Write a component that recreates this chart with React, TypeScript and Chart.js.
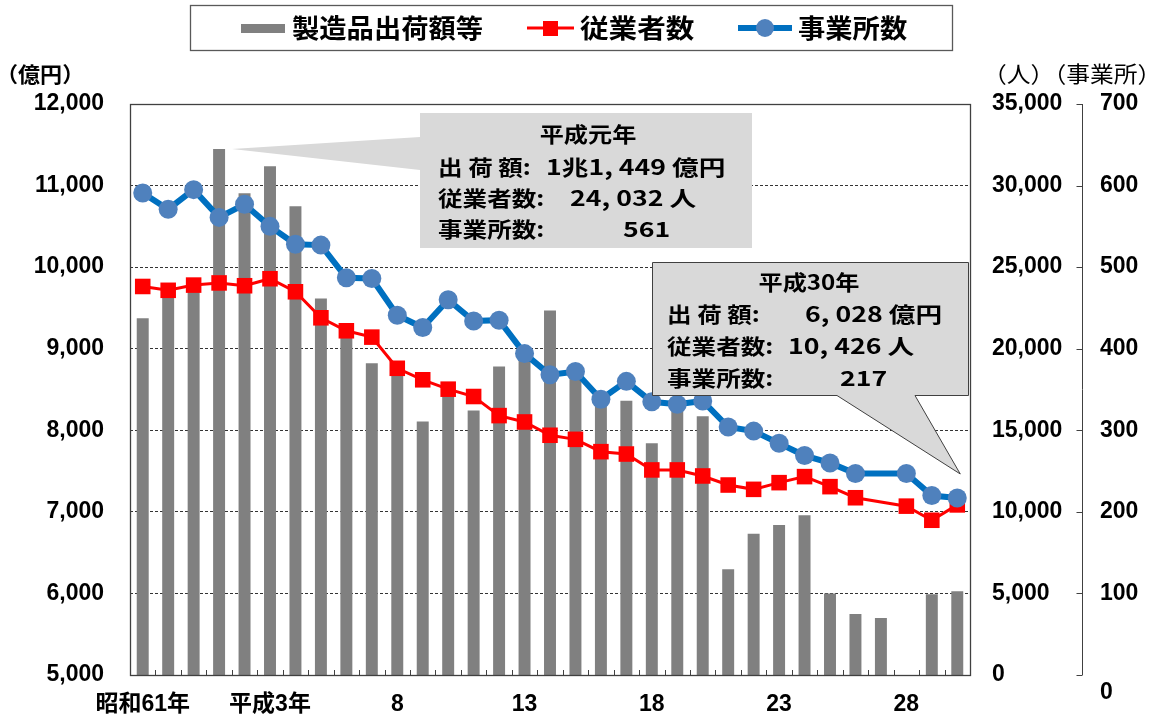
import React, { useEffect, useRef } from 'react';
import { Chart, registerables } from 'chart.js';
Chart.register(...registerables);

const categories = [
  '昭和61年', '昭和62年', '昭和63年', '平成元年', '平成2年', '平成3年', '平成4年', '平成5年', '平成6年', '平成7年',
  '平成8年', '平成9年', '平成10年', '平成11年', '平成12年', '平成13年', '平成14年', '平成15年', '平成16年', '平成17年',
  '平成18年', '平成19年', '平成20年', '平成21年', '平成22年', '平成23年', '平成24年', '平成25年', '平成26年', '平成27年',
  '平成28年', '平成29年', '平成30年',
];
const xTickLabels = [
  '昭和61年', '', '', '', '', '平成3年', '', '', '', '',
  '8', '', '', '', '', '13', '', '', '', '',
  '18', '', '', '', '', '23', '', '', '', '',
  '28', '', '',
];
// 製造品出荷額等 (億円)
const shipments = [
  9375, 9700, 9780, 11449, 10905, 11237, 10746, 9616, 9200, 8823,
  8780, 8107, 8500, 8242, 8783, 8950, 9467, 8700, 8400, 8361,
  7840, 8350, 8173, 6296, 6733, 6840, 6959, 6000, 5749, 5700,
  null, 5990, 6028,
];
// 従業者数 (人)
const employees = [
  23815, 23580, 23900, 24032, 23860, 24290, 23490, 21895, 21100, 20710,
  18800, 18095, 17520, 17070, 15900, 15510, 14695, 14445, 13690, 13545,
  12570, 12570, 12200, 11645, 11380, 11790, 12160, 11545, 10865, null,
  10350, 9485, 10426,
];
// 事業所数
const establishments = [
  591, 571, 595, 561, 577, 550, 528, 527, 487, 486,
  441, 426, 460, 434, 435, 394, 368, 372, 338, 360,
  335, 332, 336, 304, 299, 284, 269, 260, 247, null,
  247, 220, 217,
];

const legendLabels = ['製造品出荷額等', '従業者数', '事業所数'];
const unitLeft = '（億円）';
const unitRight = '（人）（事業所）';
const callout1Title = '平成元年';
const callout1Labels = ['出 荷 額:', '従業者数:', '事業所数:'];
const callout1Values = ['1兆1, 449 億円', '24, 032 人', '561'];
const callout2Title = '平成30年';
const callout2Labels = ['出 荷 額:', '従業者数:', '事業所数:'];
const callout2Values = ['6, 028 億円', '10, 426 人', '217'];

const W = 1168;
const H = 722;
const CJK = "'Noto Sans CJK JP', sans-serif";
const LAT = "'Liberation Sans', 'Noto Sans CJK JP', sans-serif";
const BAR = '#808080';
const RED = '#FF0000';
const BLUE = '#0070C0';
const BLUE_PT = '#4F81BD';
const AXIS = '#404040';

function txt(ctx: CanvasRenderingContext2D, s: string, x: number, y: number, font: string, align: CanvasTextAlign = 'left', sx = 1) {
  ctx.save();
  ctx.font = font;
  ctx.fillStyle = '#000';
  ctx.textBaseline = 'middle';
  ctx.textAlign = align;
  ctx.translate(x, y);
  ctx.scale(sx, 1);
  ctx.fillText(s, 0, 0);
  ctx.restore();
}

const decor = {
  id: 'decor',
  afterDraw(chart: any) {
    const ctx: CanvasRenderingContext2D = chart.ctx;
    const a = chart.chartArea;
    const xs = chart.scales.x;
    const y = chart.scales.y;
    const y2 = chart.scales.y2;
    ctx.save();

    // plot border
    ctx.strokeStyle = AXIS;
    ctx.lineWidth = 1.3;
    ctx.strokeRect(a.left + 0.5, a.top + 0.5, a.right - a.left, a.bottom - a.top);

    // x-axis tick marks (inside, at category boundaries)
    const n = categories.length;
    const cw = (a.right - a.left) / n;
    ctx.lineWidth = 1;
    ctx.beginPath();
    for (let i = 1; i < n; i++) {
      const x = Math.round(a.left + i * cw) + 0.5;
      ctx.moveTo(x, a.bottom);
      ctx.lineTo(x, a.bottom - 5);
    }
    ctx.stroke();

    // establishments axis line with ticks pointing left
    const ax = y2.left + 2.5;
    ctx.beginPath();
    ctx.moveTo(ax, y2.getPixelForValue(700));
    ctx.lineTo(ax, y2.getPixelForValue(0));
    for (let v = 0; v <= 700; v += 100) {
      const py = Math.round(y2.getPixelForValue(v)) + 0.5;
      ctx.moveTo(ax, py);
      ctx.lineTo(ax - 6, py);
    }
    ctx.stroke();
    txt(ctx, '0', y2.left + 20, y2.getPixelForValue(0) + 18, `bold 23px ${LAT}`);

    // units
    txt(ctx, unitLeft, -4, 74, `bold 21px ${CJK}`, 'left', 1.05);
    txt(ctx, unitRight, 983, 74, `22px ${CJK}`, 'left', 1.08);

    // legend
    ctx.strokeStyle = '#595959';
    ctx.lineWidth = 1.3;
    ctx.strokeRect(190.5, 5.5, 762, 45);
    const ly = 28;
    ctx.fillStyle = BAR;
    ctx.fillRect(241, 24, 44, 9);
    txt(ctx, legendLabels[0], 292, ly, `bold 26px ${CJK}`, 'left', 1.05);
    ctx.strokeStyle = RED;
    ctx.lineWidth = 3;
    ctx.beginPath();
    ctx.moveTo(527, ly); ctx.lineTo(574, ly); ctx.stroke();
    ctx.fillStyle = RED;
    ctx.fillRect(543, ly - 7, 15, 15);
    txt(ctx, legendLabels[1], 580, ly, `bold 26px ${CJK}`, 'left', 1.1);
    ctx.strokeStyle = BLUE;
    ctx.lineWidth = 6;
    ctx.beginPath();
    ctx.moveTo(738, ly); ctx.lineTo(792, ly); ctx.stroke();
    ctx.fillStyle = BLUE_PT;
    ctx.beginPath();
    ctx.arc(765, ly, 9, 0, Math.PI * 2); ctx.fill();
    txt(ctx, legendLabels[2], 798, ly, `bold 26px ${CJK}`, 'left', 1.05);

    // callout 1 (平成元年)
    const t1x = xs.getPixelForValue(3) + 13;
    const t1y = y.getPixelForValue(shipments[3] as number);
    ctx.fillStyle = '#D9D9D9';
    ctx.beginPath();
    ctx.moveTo(420, 113); ctx.lineTo(752, 113); ctx.lineTo(752, 248); ctx.lineTo(420, 248);
    ctx.lineTo(420, 170); ctx.lineTo(t1x, t1y); ctx.lineTo(420, 137); ctx.closePath();
    ctx.fill();
    const f1 = `bold 21px ${CJK}`;
    txt(ctx, callout1Title, 588, 134, f1, 'center', 1.15);
    const rows1 = [167, 198, 229];
    const vx1 = [546, 570, 623];
    rows1.forEach((ry, i) => {
      txt(ctx, callout1Labels[i], 438, ry, f1, 'left', 1.17);
      txt(ctx, callout1Values[i], vx1[i], ry, f1, 'left', 1.27);
    });

    // callout 2 (平成30年)
    const t2x = xs.getPixelForValue(32) + 3;
    const t2y = y2.getPixelForValue(establishments[32] as number) - 24;
    ctx.fillStyle = '#D9D9D9';
    ctx.strokeStyle = AXIS;
    ctx.lineWidth = 1;
    ctx.beginPath();
    ctx.moveTo(652.5, 262.5); ctx.lineTo(968.5, 262.5); ctx.lineTo(968.5, 395.5); ctx.lineTo(915, 395.5);
    ctx.lineTo(t2x, t2y); ctx.lineTo(837, 395.5); ctx.lineTo(652.5, 395.5); ctx.closePath();
    ctx.fill();
    ctx.stroke();
    txt(ctx, callout2Title, 809, 282, f1, 'center', 1.15);
    const rows2 = [314, 346, 378];
    const vx2 = [805, 788, 840];
    rows2.forEach((ry, i) => {
      txt(ctx, callout2Labels[i], 667, ry, f1, 'left', 1.17);
      txt(ctx, callout2Values[i], vx2[i], ry, f1, 'left', 1.27);
    });

    ctx.restore();
  },
};

export default function App() {
  const ref = useRef<HTMLCanvasElement>(null);
  useEffect(() => {
    const tickFont = { family: LAT, weight: 'bold' as const, size: 23 };
    const chart = new Chart(ref.current!, {
      type: 'bar',
      data: {
        labels: categories,
        datasets: [
          {
            type: 'line',
            label: legendLabels[2],
            data: establishments,
            yAxisID: 'y2',
            borderColor: BLUE,
            borderWidth: 6,
            backgroundColor: BLUE_PT,
            pointBackgroundColor: BLUE_PT,
            pointBorderColor: BLUE_PT,
            pointBorderWidth: 0,
            pointRadius: 9.5,
            spanGaps: true,
            order: 1,
          } as any,
          {
            type: 'line',
            label: legendLabels[1],
            data: employees,
            yAxisID: 'y1',
            borderColor: RED,
            borderWidth: 3,
            backgroundColor: RED,
            pointBackgroundColor: RED,
            pointBorderColor: RED,
            pointBorderWidth: 0,
            pointStyle: 'rect',
            pointRadius: 11,
            spanGaps: true,
            order: 2,
          } as any,
          {
            type: 'bar',
            label: legendLabels[0],
            data: shipments,
            yAxisID: 'y',
            backgroundColor: BAR,
            barPercentage: 0.47,
            categoryPercentage: 1,
            order: 3,
          } as any,
        ],
      },
      options: {
        responsive: false,
        animation: false,
        layout: { padding: { top: 104, left: 0, right: 0, bottom: 0 } },
        plugins: { legend: { display: false }, tooltip: { enabled: false } },
        scales: {
          x: {
            grid: { display: false, drawTicks: false },
            border: { display: false },
            ticks: {
              autoSkip: false,
              maxRotation: 0,
              padding: 16,
              color: '#000',
              font: tickFont,
              callback: (_v: any, i: number) => xTickLabels[i],
            },
            afterFit: (s: any) => { s.height = 47; },
          },
          y: {
            position: 'left',
            min: 5000,
            max: 12000,
            ticks: {
              stepSize: 1000,
              padding: 26,
              color: '#000',
              font: tickFont,
              callback: (v: any) => Number(v).toLocaleString('en-US'),
            },
            grid: { color: '#333', lineWidth: 1, drawTicks: false },
            border: { display: false, dash: [3, 2] },
            afterFit: (s: any) => { s.width = 130; },
          },
          y1: {
            position: 'right',
            min: 0,
            max: 35000,
            ticks: {
              stepSize: 5000,
              padding: 22,
              color: '#000',
              font: tickFont,
              callback: (v: any) => Number(v).toLocaleString('en-US'),
            },
            grid: { drawOnChartArea: false, drawTicks: false },
            border: { display: false },
            afterFit: (s: any) => { s.width = 110; },
          },
          y2: {
            position: 'right',
            min: 0,
            max: 700,
            ticks: {
              stepSize: 100,
              padding: 20,
              color: '#000',
              font: tickFont,
              callback: (v: any) => (Number(v) === 0 ? '' : String(v)),
            },
            grid: { drawOnChartArea: false, drawTicks: false },
            border: { display: false },
            afterFit: (s: any) => { s.width = 88; },
          },
        },
      },
      plugins: [decor],
    });
    return () => chart.destroy();
  }, []);
  return (
    <div style={{ position: 'fixed', left: 0, top: 0, width: W, height: H, background: '#fff' }}>
      <canvas ref={ref} width={W} height={H} style={{ width: W, height: H, display: 'block' }} />
    </div>
  );
}
